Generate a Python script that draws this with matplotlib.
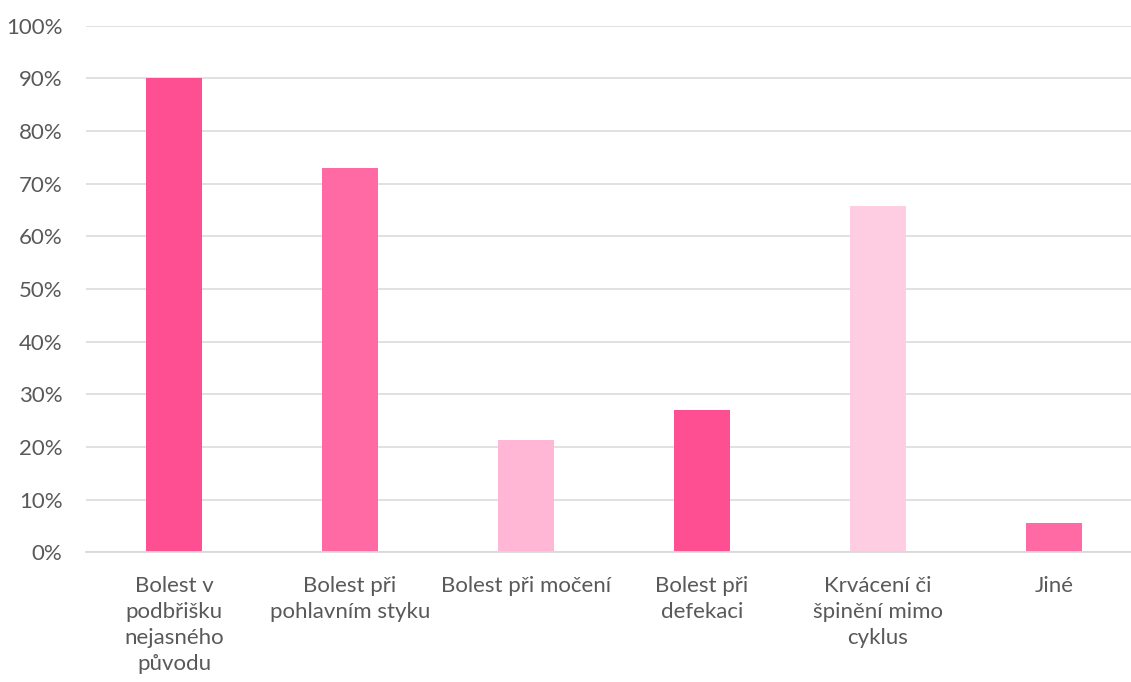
import matplotlib.pyplot as plt
from matplotlib.ticker import PercentFormatter

# symptom categories and share of respondents
categories = [
    "Bolest v\npodbřišku\nnejasného\npůvodu",
    "Bolest při\npohlavním styku",
    "Bolest při močení",
    "Bolest při\ndefekaci",
    "Krvácení či\nšpinění mimo\ncyklus",
    "Jiné",
]
shares = [90, 73, 21.3, 27, 65.7, 5.6]
colors = ["#FF4F93", "#FF6AA5", "#FFB7D5", "#FF4F93", "#FFCDE2", "#FF6AA5"]

plt.rcParams['font.family'] = ['Lato', 'DejaVu Sans']

fig = plt.figure(figsize=(11.31, 6.82), dpi=100)
ax = fig.add_axes([86 / 1131, 129.7 / 682, 1056 / 1131, 526.6 / 682])

x = range(len(categories))
ax.bar(x, shares, width=0.32, color=colors, zorder=3)

ax.set_xlim(-0.5, len(categories) - 0.5)
ax.set_ylim(0, 100)
ax.set_yticks(range(0, 101, 10))
ax.yaxis.set_major_formatter(PercentFormatter(decimals=0))
ax.set_xticks(list(x))
ax.set_xticklabels(categories, linespacing=1.38, va="top")

ax.grid(axis="y", color="#D9D9D9", linewidth=1.1, zorder=0)
for side in ["top", "right", "left"]:
    ax.spines[side].set_visible(False)
ax.spines["bottom"].set_color("#D9D9D9")
ax.spines["bottom"].set_linewidth(1.3)
ax.spines["bottom"].set_zorder(4)

ax.tick_params(axis="both", length=0, labelsize=16, colors="#595959")
ax.tick_params(axis="y", pad=17)
ax.tick_params(axis="x", pad=17)

fig.savefig("out.png", dpi=100)
